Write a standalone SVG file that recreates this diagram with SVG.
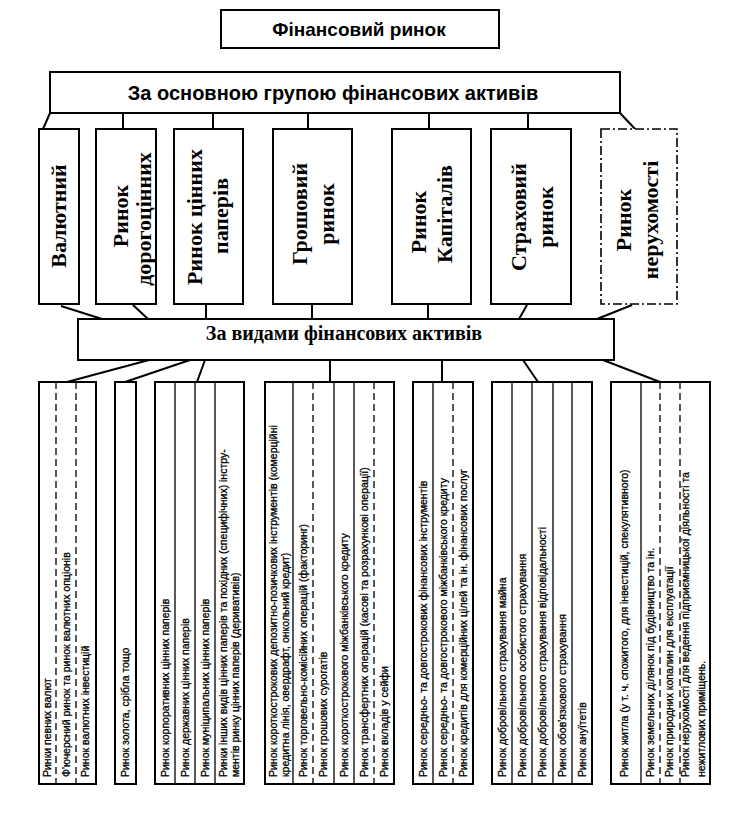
<svg xmlns="http://www.w3.org/2000/svg" width="735" height="825" viewBox="0 0 735 825">
<style>
.box{fill:#fff;stroke:#000;stroke-width:2}
.dbox{fill:#fff;stroke:#000;stroke-width:1.6;stroke-dasharray:9 3 2 3}
.hd{font-family:"Liberation Sans",Arial,sans-serif;font-weight:bold;text-anchor:middle;fill:#000}
.cat{font-family:"Liberation Serif","Times New Roman",serif;font-weight:bold;font-size:22px;text-anchor:middle;fill:#000}
.sub{font-family:"Liberation Serif","Times New Roman",serif;font-weight:bold;font-size:20px;text-anchor:middle;fill:#000}
.sm{font-family:"Liberation Sans",Arial,sans-serif;font-size:10.5px;fill:#000;stroke:#000;stroke-width:0.3}
.frame{fill:#fff;stroke:#000;stroke-width:2}
.sep{stroke:#000;stroke-width:1.3}
.sepd{stroke:#000;stroke-width:1.3;stroke-dasharray:7 4}
.conn line{stroke:#000;stroke-width:2}
</style>
<rect width="735" height="825" fill="#fff"/>

<g id="connectors" class="conn">
  <line x1="50" y1="113" x2="43" y2="129"/>
  <line x1="123" y1="113" x2="123" y2="129"/>
  <line x1="213" y1="113" x2="213" y2="129"/>
  <line x1="308" y1="113" x2="308" y2="129"/>
  <line x1="429" y1="113" x2="429" y2="129"/>
  <line x1="528" y1="113" x2="528" y2="129"/>
  <line x1="620" y1="113" x2="636" y2="130"/>
  <line x1="61" y1="306" x2="102" y2="319"/>
  <line x1="133" y1="305" x2="148" y2="319"/>
  <line x1="206" y1="304" x2="206" y2="319"/>
  <line x1="312" y1="304" x2="312" y2="319"/>
  <line x1="428" y1="304" x2="428" y2="319"/>
  <line x1="527" y1="305" x2="519" y2="319"/>
  <line x1="632" y1="305" x2="597" y2="319"/>
  <line x1="149" y1="360" x2="67" y2="382"/>
  <line x1="190" y1="360" x2="125" y2="382"/>
  <line x1="205" y1="360" x2="197" y2="382"/>
  <line x1="330" y1="360" x2="330" y2="382"/>
  <line x1="442" y1="360" x2="442" y2="382"/>
  <line x1="523" y1="360" x2="538" y2="382"/>
  <line x1="603" y1="360" x2="660" y2="382"/>
</g>

<g id="root">
  <rect class="box" x="221" y="10" width="278" height="38"/>
  <text class="hd" x="359" y="36" font-size="19">Фінансовий ринок</text>
</g>

<g id="by-group">
  <rect class="box" x="50" y="72" width="570" height="41"/>
  <text class="hd" x="333" y="100" font-size="20">За основною групою фінансових активів</text>
</g>

<g id="cat-valutnyi">
  <rect class="box" x="39" y="129" width="40" height="175"/>
  <text class="cat" transform="translate(66,216) rotate(-90)">Валютний</text>
</g>
<g id="cat-dorohots">
  <rect class="box" x="96" y="129" width="60" height="175"/>
  <text class="cat" transform="translate(128,216) rotate(-90)">Ринок</text>
  <text class="cat" transform="translate(151,219) rotate(-90)">дорогоцінних</text>
</g>
<g id="cat-tsinni">
  <rect class="box" x="174" y="129" width="69" height="175"/>
  <text class="cat" transform="translate(202,217) rotate(-90)">Ринок цінних</text>
  <text class="cat" transform="translate(228,216) rotate(-90)">паперів</text>
</g>
<g id="cat-hroshovyi">
  <rect class="box" x="273" y="129" width="79" height="175"/>
  <text class="cat" transform="translate(307,214) rotate(-90)">Грошовий</text>
  <text class="cat" transform="translate(334,214) rotate(-90)">ринок</text>
</g>
<g id="cat-kapital">
  <rect class="box" x="392" y="129" width="79" height="175"/>
  <text class="cat" transform="translate(426,222) rotate(-90)">Ринок</text>
  <text class="cat" transform="translate(452,214) rotate(-90)">Капіталів</text>
</g>
<g id="cat-strakh">
  <rect class="box" x="491" y="129" width="80" height="175"/>
  <text class="cat" transform="translate(526,217) rotate(-90)">Страховий</text>
  <text class="cat" transform="translate(553,217) rotate(-90)">ринок</text>
</g>
<g id="cat-nerukh">
  <rect class="dbox" x="601" y="129" width="76" height="175"/>
  <text class="cat" transform="translate(631,220) rotate(-90)">Ринок</text>
  <text class="cat" transform="translate(658,220) rotate(-90)">нерухомості</text>
</g>

<g id="by-kind">
  <rect class="box" x="78" y="319" width="536" height="41"/>
  <text class="sub" x="344" y="340">За видами фінансових активів</text>
</g>

<g id="grp-valutnyi">
  <rect class="frame" x="39" y="382" width="57" height="402"/>
  <line class="sepd" x1="56" y1="382" x2="56" y2="784"/>
  <line class="sepd" x1="76" y1="382" x2="76" y2="784"/>
  <text class="sm" transform="translate(51,777) rotate(-90)">Ринки певних валют</text>
  <text class="sm" transform="translate(70,777) rotate(-90)">Ф'ючерсний ринок та ринок валютних опціонів</text>
  <text class="sm" transform="translate(89,777) rotate(-90)">Ринок валютних інвестицій</text>
</g>

<g id="grp-dorohots">
  <rect class="frame" x="115" y="382" width="21" height="402"/>
  <text class="sm" transform="translate(129,777) rotate(-90)">Ринок золота, срібла тощо</text>
</g>

<g id="grp-tsinni">
  <rect class="frame" x="155" y="382" width="89" height="402"/>
  <line class="sep" x1="175" y1="382" x2="175" y2="784"/>
  <line class="sep" x1="195" y1="382" x2="195" y2="784"/>
  <line class="sep" x1="215" y1="382" x2="215" y2="784"/>
  <text class="sm" transform="translate(169,777) rotate(-90)">Ринок корпоративних цінних паперів</text>
  <text class="sm" transform="translate(189,777) rotate(-90)">Ринок державних цінних паперів</text>
  <text class="sm" transform="translate(209,777) rotate(-90)">Ринок муніципальних цінних паперів</text>
  <text class="sm" transform="translate(227,777) rotate(-90)">Ринки інших видів цінних паперів та похідних (специфічних) інстру-</text>
  <text class="sm" transform="translate(239,777) rotate(-90)">ментів ринку цінних паперів (деривативів)</text>
</g>

<g id="grp-hroshovyi">
  <rect class="frame" x="265" y="382" width="129" height="402"/>
  <line class="sep" x1="293" y1="382" x2="293" y2="784"/>
  <line class="sepd" x1="313" y1="382" x2="313" y2="784"/>
  <line class="sep" x1="334" y1="382" x2="334" y2="784"/>
  <line class="sep" x1="354" y1="382" x2="354" y2="784"/>
  <line class="sepd" x1="374" y1="382" x2="374" y2="784"/>
  <text class="sm" transform="translate(277,777) rotate(-90)">Ринок короткострокових депозитно-позичкових інструментів (комерційні</text>
  <text class="sm" transform="translate(289,777) rotate(-90)">кредитна лінія, овердрафт, онкольний кредит)</text>
  <text class="sm" transform="translate(307,777) rotate(-90)">Ринок торговельно-комісійних операцій (факторинг)</text>
  <text class="sm" transform="translate(327,777) rotate(-90)">Ринок грошових сурогатів</text>
  <text class="sm" transform="translate(348,777) rotate(-90)">Ринок короткострокового міжбанківського кредиту</text>
  <text class="sm" transform="translate(368,777) rotate(-90)">Ринок трансфертних операцій (касові та розрахункові операції)</text>
  <text class="sm" transform="translate(388,777) rotate(-90)">Ринок вкладів у сейфи</text>
</g>

<g id="grp-kapital">
  <rect class="frame" x="413" y="382" width="60" height="402"/>
  <line class="sep" x1="433" y1="382" x2="433" y2="784"/>
  <line class="sepd" x1="453" y1="382" x2="453" y2="784"/>
  <text class="sm" transform="translate(427,777) rotate(-90)">Ринок середньо- та довгострокових фінансових інструментів</text>
  <text class="sm" transform="translate(447,777) rotate(-90)">Ринок середньо- та довгострокового міжбанківського кредиту</text>
  <text class="sm" transform="translate(467,777) rotate(-90)">Ринок кредитів для комерційних цілей та ін. фінансових послуг</text>
</g>

<g id="grp-strakh">
  <rect class="frame" x="492" y="382" width="100" height="402"/>
  <line class="sep" x1="512" y1="382" x2="512" y2="784"/>
  <line class="sep" x1="532" y1="382" x2="532" y2="784"/>
  <line class="sep" x1="553" y1="382" x2="553" y2="784"/>
  <line class="sep" x1="572" y1="382" x2="572" y2="784"/>
  <text class="sm" transform="translate(506,777) rotate(-90)">Ринок добровільного страхування майна</text>
  <text class="sm" transform="translate(526,777) rotate(-90)">Ринок добровільного особистого страхування</text>
  <text class="sm" transform="translate(546,777) rotate(-90)">Ринок добровільного страхування відповідальності</text>
  <text class="sm" transform="translate(566,777) rotate(-90)">Ринок обов'язкового страхування</text>
  <text class="sm" transform="translate(586,777) rotate(-90)">Ринок ануїтетів</text>
</g>

<g id="grp-nerukh">
  <rect class="frame" x="611" y="382" width="99" height="402"/>
  <line class="sep" x1="641" y1="382" x2="641" y2="784"/>
  <line class="sepd" x1="660" y1="382" x2="660" y2="784"/>
  <line class="sepd" x1="680" y1="382" x2="680" y2="784"/>
  <text class="sm" transform="translate(628,777) rotate(-90)">Ринок житла (у т. ч. спожитого, для інвестицій, спекулятивного)</text>
  <text class="sm" transform="translate(654,777) rotate(-90)">Ринок земельних ділянок під будівництво та ін.</text>
  <text class="sm" transform="translate(673,777) rotate(-90)">Ринок природних копалин для експлуатації</text>
  <text class="sm" transform="translate(689,777) rotate(-90)">Ринок нерухомості для ведення підприємницької діяльності та</text>
  <text class="sm" transform="translate(705,777) rotate(-90)">нежитлових приміщень.</text>
</g>
</svg>
